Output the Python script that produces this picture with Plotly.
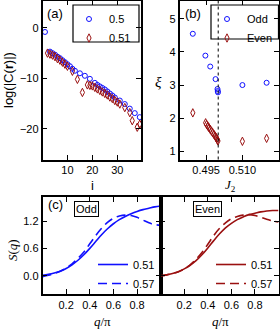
import plotly.graph_objects as go

# ---------------- data ----------------
# (a) log|C(r)| vs i
a_i_05 = [1, 3, 4, 5, 6, 7, 8, 9, 10, 11, 12, 13, 15, 17, 19, 21, 22, 23, 24, 25, 26, 27, 28, 29, 31, 33, 35, 37, 39]
a_v_05 = [-0.8, -4.7, -5.0, -5.3, -5.7, -6.0, -6.4, -6.8, -7.2, -7.6, -8.1, -8.5, -9.0, -9.5, -10.1,
          -10.9, -11.3, -11.6, -11.9, -12.2, -12.6, -13.0, -13.4, -13.8, -14.4, -15.1, -16.0, -16.9, -17.7]
a_i_051 = [2, 3, 4, 5, 6, 7, 8, 9, 10, 12, 14, 16, 18, 19, 20, 21, 22, 23, 24, 25, 26, 27, 28, 29, 30, 31, 33, 35, 36, 38, 39]
a_v_051 = [-5.0, -5.2, -5.4, -5.7, -6.1, -6.4, -6.8, -7.2, -7.6, -8.6, -10.2, -12.8, -11.3, -11.4, -11.5,
           -11.8, -12.1, -12.4, -12.7, -13.0, -13.3, -13.7, -14.0, -14.4, -14.7, -15.1, -15.8, -16.8, -18.4, -19.7, -19.1]

# (b) xi vs J2
b_j_odd = [0.4895, 0.4947, 0.4967, 0.4989, 0.4997, 0.4998, 0.4999, 0.510, 0.520]
b_x_odd = [4.55, 3.89, 3.56, 3.18, 2.88, 2.82, 2.78, 3.00, 3.07]
b_j_even = [0.4895, 0.4948, 0.4952, 0.4957, 0.4962, 0.4967, 0.4972, 0.4977, 0.4982, 0.4987,
            0.4991, 0.4994, 0.4997, 0.4999, 0.510, 0.520]
b_x_even = [2.16, 1.86, 1.81, 1.76, 1.71, 1.66, 1.61, 1.56, 1.51, 1.46, 1.42, 1.38, 1.34, 1.31, 1.30, 1.39]

# (c)/(d) S(q) vs q/pi
q = [0.0, 0.05, 0.10, 0.15, 0.20, 0.25, 0.30, 0.35, 0.40, 0.45, 0.50, 0.55, 0.60, 0.65, 0.70, 0.75, 0.80, 0.85, 0.90, 0.95, 1.0]
odd_051 = [0.01, 0.03, 0.06, 0.10, 0.16, 0.24, 0.34, 0.46, 0.60, 0.75, 0.90, 1.03, 1.14, 1.23, 1.30, 1.36, 1.41, 1.45, 1.48, 1.51, 1.53]
odd_057 = [-0.02, 0.01, 0.05, 0.10, 0.17, 0.26, 0.38, 0.52, 0.70, 0.88, 1.04, 1.17, 1.26, 1.31, 1.33, 1.32, 1.28, 1.22, 1.16, 1.12, 1.11]
even_051 = [0.00, 0.02, 0.05, 0.09, 0.15, 0.23, 0.33, 0.46, 0.61, 0.77, 0.92, 1.05, 1.15, 1.23, 1.29, 1.34, 1.37, 1.40, 1.42, 1.43, 1.43]
even_057 = [0.00, 0.02, 0.05, 0.09, 0.15, 0.24, 0.36, 0.51, 0.69, 0.88, 1.04, 1.16, 1.25, 1.30, 1.33, 1.34, 1.32, 1.28, 1.24, 1.20, 1.18]

BLUE = "#1010ff"
RED = "#9a1010"
FONT = "Liberation Sans"
SERIF = "Liberation Serif"

W, H = 280, 331
def px(x):
    return x / W
def py(y):
    return 1 - y / H

fig = go.Figure()

# (a)
fig.add_trace(go.Scatter(x=a_i_05, y=a_v_05, mode="markers", name="0.5", xaxis="x", yaxis="y",
                         marker=dict(symbol="circle-open", size=5, color=BLUE, line=dict(width=1)),
                         legend="legend"))
fig.add_trace(go.Scatter(x=a_i_051, y=a_v_051, mode="markers", name="0.51", xaxis="x", yaxis="y",
                         marker=dict(symbol="diamond-tall-open", size=6, color=RED, line=dict(width=1)),
                         legend="legend"))
# (b)
fig.add_trace(go.Scatter(x=b_j_odd, y=b_x_odd, mode="markers", name="Odd", xaxis="x2", yaxis="y2",
                         marker=dict(symbol="circle-open", size=5, color=BLUE, line=dict(width=1)),
                         legend="legend2"))
fig.add_trace(go.Scatter(x=b_j_even, y=b_x_even, mode="markers", name="Even", xaxis="x2", yaxis="y2",
                         marker=dict(symbol="diamond-tall-open", size=6, color=RED, line=dict(width=1)),
                         legend="legend2"))
# (c)
fig.add_trace(go.Scatter(x=q, y=odd_051, mode="lines", name="0.51", xaxis="x3", yaxis="y3",
                         line=dict(color=BLUE, width=1.6, shape="spline"), legend="legend3"))
fig.add_trace(go.Scatter(x=q, y=odd_057, mode="lines", name="0.57", xaxis="x3", yaxis="y3",
                         line=dict(color=BLUE, width=1.6, dash="9px,5px", shape="spline"), legend="legend3"))
# (d)
fig.add_trace(go.Scatter(x=q, y=even_051, mode="lines", name="0.51", xaxis="x4", yaxis="y4",
                         line=dict(color=RED, width=1.6, shape="spline"), legend="legend4"))
fig.add_trace(go.Scatter(x=q, y=even_057, mode="lines", name="0.57", xaxis="x4", yaxis="y4",
                         line=dict(color=RED, width=1.6, dash="9px,5px", shape="spline"), legend="legend4"))

def ax(**kw):
    base = dict(showline=True, linecolor="black", linewidth=1.5, mirror="ticks", ticks="inside",
                ticklen=5, tickwidth=1, tickcolor="black", showgrid=False, zeroline=False,
                tickfont=dict(family=FONT, size=11, color="black"))
    base.update(kw)
    return base

top = [py(159.5), py(0.7)]
bot = [py(294), py(197.3)]

fig.update_layout(
    width=W, height=H, autosize=False,
    margin=dict(l=0, r=0, t=0, b=0),
    paper_bgcolor="white", plot_bgcolor="white",
    font=dict(family=FONT, size=11, color="black"),
    xaxis=ax(domain=[px(42.5), px(141)], anchor="y", range=[0, 39.5], tickvals=[10, 20, 30]),
    yaxis=ax(domain=top, anchor="x", range=[-26.1, 5.4], tickvals=[-20, -10, 0],
             ticktext=["\u221220", "\u221210", "0"]),
    xaxis2=ax(domain=[px(179.5), px(278.7)], anchor="y2", range=[0.484, 0.525],
              tickvals=[0.495, 0.510], ticktext=["0.495", "0.510"]),
    yaxis2=ax(domain=top, anchor="x2", range=[0.75, 5.55], tickvals=[1, 2, 3, 4, 5]),
    xaxis3=ax(domain=[px(42.5), px(160.7)], anchor="y3", range=[0, 1],
              tickvals=[0.2, 0.4, 0.6, 0.8], ticktext=["0.2", "0.4", "0.6", "0.8"]),
    yaxis3=ax(domain=bot, anchor="x3", range=[-0.4, 1.72], tickvals=[0, 0.6, 1.2],
              ticktext=["0.0", "0.6", "1.2"]),
    xaxis4=ax(domain=[px(160.7), px(278.5)], anchor="y4", range=[0, 1],
              tickvals=[0.2, 0.4, 0.6, 0.8], ticktext=["0.2", "0.4", "0.6", "0.8"]),
    yaxis4=ax(domain=bot, anchor="x4", range=[-0.4, 1.72], tickvals=[0, 0.6, 1.2], showticklabels=False),
    legend=dict(x=px(69), y=py(4.5), xanchor="left", yanchor="top", borderwidth=0,
                bgcolor="rgba(0,0,0,0)", font=dict(size=11), itemwidth=30),
    legend2=dict(x=px(207), y=py(4.5), xanchor="left", yanchor="top", borderwidth=0,
                 bgcolor="rgba(0,0,0,0)", font=dict(size=11), itemwidth=30),
    legend3=dict(x=px(93), y=py(250), xanchor="left", yanchor="top", borderwidth=0,
                 bgcolor="rgba(0,0,0,0)", font=dict(size=11), itemwidth=30),
    legend4=dict(x=px(211), y=py(250), xanchor="left", yanchor="top", borderwidth=0,
                 bgcolor="rgba(0,0,0,0)", font=dict(size=11), itemwidth=30),
    showlegend=True,
)

# legend frames for (a) and (b)
fig.add_shape(type="rect", xref="paper", yref="paper", x0=px(73), x1=px(139), y0=py(42), y1=py(5),
              line=dict(color="black", width=1.2), fillcolor="rgba(0,0,0,0)", layer="above")
fig.add_shape(type="rect", xref="paper", yref="paper", x0=px(211), x1=px(278.5), y0=py(39), y1=py(5),
              line=dict(color="black", width=1.2), fillcolor="rgba(0,0,0,0)", layer="above")

# dotted line at J2 = 0.5
fig.add_shape(type="line", xref="x2", yref="y2 domain", x0=0.5, x1=0.5, y0=0, y1=1,
              line=dict(color="black", width=1, dash="dot"))

ann = []
def A(text, x, y, size=12, angle=0, family=FONT, **kw):
    d = dict(text=text, x=px(x), y=py(y), xref="paper", yref="paper", showarrow=False,
             font=dict(family=family, size=size, color="black"), textangle=angle,
             xanchor="center", yanchor="middle")
    d.update(kw)
    ann.append(d)

A("(a)", 55, 13, size=13)
A("(b)", 193, 13, size=13)
A("(c)", 55, 205, size=13)
A("log(|C(<b>r</b>)|)", 8, 80, size=13, angle=-90)
A("i", 92, 185, size=13)
A("<i>\u03be</i>", 158, 82, size=15, family=SERIF)
A("<i>J</i><sub>2</sub>", 230, 185, size=13, family=SERIF)
A("<i>S</i>(<i>q</i>)", 12, 250, size=13, angle=-90, family=SERIF)
A("<i>q</i>/\u03c0", 102, 321, size=13, family=SERIF)
A("<i>q</i>/\u03c0", 220, 321, size=13, family=SERIF)
A("Odd", 86.5, 209, size=11, bordercolor="black", borderwidth=1, borderpad=1, bgcolor="white")
A("Even", 207, 209, size=11, bordercolor="black", borderwidth=1, borderpad=1, bgcolor="white")
fig.update_layout(annotations=ann)

fig.write_html("out.html", config={"displayModeBar": False},
               post_script="document.body.style.margin='0';document.body.style.overflow='hidden';")
